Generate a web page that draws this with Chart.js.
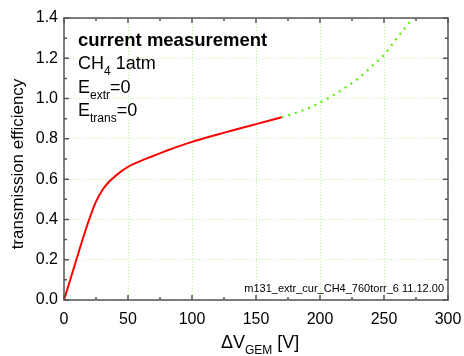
<!DOCTYPE html>
<html>
<head>
<meta charset="utf-8">
<script src="https://cdn.jsdelivr.net/npm/chart.js@4"></script>
<style>
html,body{margin:0;padding:0;background:#fff;}
#wrap{width:464px;height:356px;position:relative;}
</style>
</head>
<body>
<div id="wrap"><canvas id="c" width="464" height="356"></canvas></div>
<script>
// measured curve (solid red)
const measuredV = [0, 5, 10, 15, 20, 25, 30, 35, 40, 45, 50, 55, 60, 70, 80, 90, 100, 110, 120, 130, 140, 150, 160, 170];
const measuredEff = [0, 0.103, 0.207, 0.31, 0.406, 0.488, 0.546, 0.586, 0.615, 0.640, 0.661, 0.677, 0.691, 0.716, 0.741, 0.764, 0.785, 0.804, 0.822, 0.839, 0.856, 0.873, 0.890, 0.907];
// extrapolated curve (dotted green)
const extrapV = [170, 180, 190, 200, 210, 220, 230, 240, 250, 260, 270, 275];
const extrapEff = [0.907, 0.927, 0.95, 0.98, 1.015, 1.056, 1.10, 1.158, 1.217, 1.30, 1.38, 1.43];
// axis ticks
const xMajorTicks = [0, 50, 100, 150, 200, 250, 300];
const xMinorTicks = [25, 75, 125, 175, 225, 275];
const yMajorTicks = [0, 0.2, 0.4, 0.6, 0.8, 1.0, 1.2, 1.4];
const yMinorTicks = [0.1, 0.3, 0.5, 0.7, 0.9, 1.1, 1.3];

const toPts = (xs, ys) => xs.map((x, i) => ({x: x, y: ys[i]}));
const FONT = "'Liberation Sans', Arial, sans-serif";

const framePlugin = {
  id: 'frame',
  afterDraw(chart) {
    const ctx = chart.ctx;
    const a = chart.chartArea;
    const xs = chart.scales.x, ys = chart.scales.y;
    ctx.save();
    ctx.strokeStyle = '#555';
    ctx.lineWidth = 1.5;
    ctx.setLineDash([]);
    ctx.strokeRect(a.left, a.top, a.right - a.left, a.bottom - a.top);
    ctx.beginPath();
    const tick = (vals, len) => {
      vals.forEach(v => {
        const px = xs.getPixelForValue(v);
        ctx.moveTo(px, a.bottom); ctx.lineTo(px, a.bottom - len);
        ctx.moveTo(px, a.top); ctx.lineTo(px, a.top + len);
      });
    };
    const tickY = (vals, len) => {
      vals.forEach(v => {
        const py = ys.getPixelForValue(v);
        ctx.moveTo(a.left, py); ctx.lineTo(a.left + len, py);
        ctx.moveTo(a.right, py); ctx.lineTo(a.right - len, py);
      });
    };
    tick(xMajorTicks, 5); tick(xMinorTicks, 3);
    tickY(yMajorTicks, 5); tickY(yMinorTicks, 3);
    ctx.stroke();

    ctx.fillStyle = '#000';
    ctx.textBaseline = 'alphabetic';
    ctx.textAlign = 'left';
    // annotation block
    const x0 = 78;
    ctx.font = 'bold 18.5px ' + FONT;
    ctx.fillText('current measurement', x0, 46);
    const sub = (main, s, rest, y) => {
      ctx.font = '18px ' + FONT;
      let x = x0;
      ctx.fillText(main, x, y); x += ctx.measureText(main).width;
      ctx.font = '12px ' + FONT;
      ctx.fillText(s, x, y + 6); x += ctx.measureText(s).width;
      ctx.font = '18px ' + FONT;
      ctx.fillText(rest, x, y);
    };
    sub('CH', '4', ' 1atm', 69);
    sub('E', 'extr', '=0', 92.5);
    sub('E', 'trans', '=0', 116);

    // file note
    ctx.font = '11px ' + FONT;
    ctx.textAlign = 'right';
    ctx.fillText('m131_extr_cur_CH4_760torr_6 11.12.00', a.right - 4, 292);

    // x title
    ctx.textAlign = 'left';
    let tx = 221;
    ctx.font = '18px ' + FONT;
    ctx.fillText('\u0394V', tx, 348); tx += ctx.measureText('\u0394V').width;
    ctx.font = '12px ' + FONT;
    ctx.fillText('GEM', tx, 354); tx += ctx.measureText('GEM').width;
    ctx.font = '18px ' + FONT;
    ctx.fillText(' [V]', tx, 348);

    // y title
    ctx.save();
    ctx.translate(23, 164);
    ctx.rotate(-Math.PI / 2);
    ctx.textAlign = 'center';
    ctx.font = '17px ' + FONT;
    ctx.fillText('transmission efficiency', 0, 0);
    ctx.restore();
    ctx.restore();
  }
};

new Chart(document.getElementById('c'), {
  type: 'line',
  data: {
    datasets: [
      {
        data: toPts(measuredV, measuredEff),
        borderColor: '#ff0000',
        borderWidth: 2,
        pointRadius: 0,
        cubicInterpolationMode: 'monotone',
        fill: false
      },
      {
        data: toPts(extrapV, extrapEff),
        borderColor: '#5cf000',
        borderWidth: 2.2,
        borderDash: [2, 5],
        borderCapStyle: 'butt',
        pointRadius: 0,
        cubicInterpolationMode: 'monotone',
        fill: false
      }
    ]
  },
  options: {
    responsive: false,
    animation: false,
    events: [],
    layout: {padding: {top: 18, right: 16, left: 0, bottom: 0}},
    plugins: {legend: {display: false}, tooltip: {enabled: false}, title: {display: false}},
    scales: {
      x: {
        type: 'linear',
        min: 0, max: 300,
        afterBuildTicks: s => { s.ticks = xMajorTicks.map(v => ({value: v})); },
        afterFit: s => { s.height = 56; s.paddingRight = 0; s.paddingLeft = 0; },
        grid: {color: '#bdf5a0', lineWidth: 1, drawTicks: false},
        border: {display: false, dash: [1, 2]},
        ticks: {padding: 10, color: '#000', font: {family: FONT, size: 16}, maxRotation: 0,
                callback: v => String(v)}
      },
      y: {
        type: 'linear',
        min: 0, max: 1.4,
        afterBuildTicks: s => { s.ticks = yMajorTicks.map(v => ({value: v})); },
        afterFit: s => { s.width = 64; s.paddingTop = 0; s.paddingBottom = 0; },
        grid: {color: '#bdf5a0', lineWidth: 1, drawTicks: false},
        border: {display: false, dash: [1, 2]},
        ticks: {padding: 6, color: '#000', font: {family: FONT, size: 16},
                callback: v => Number(v).toFixed(1)}
      }
    }
  },
  plugins: [framePlugin]
});
</script>
</body>
</html>
